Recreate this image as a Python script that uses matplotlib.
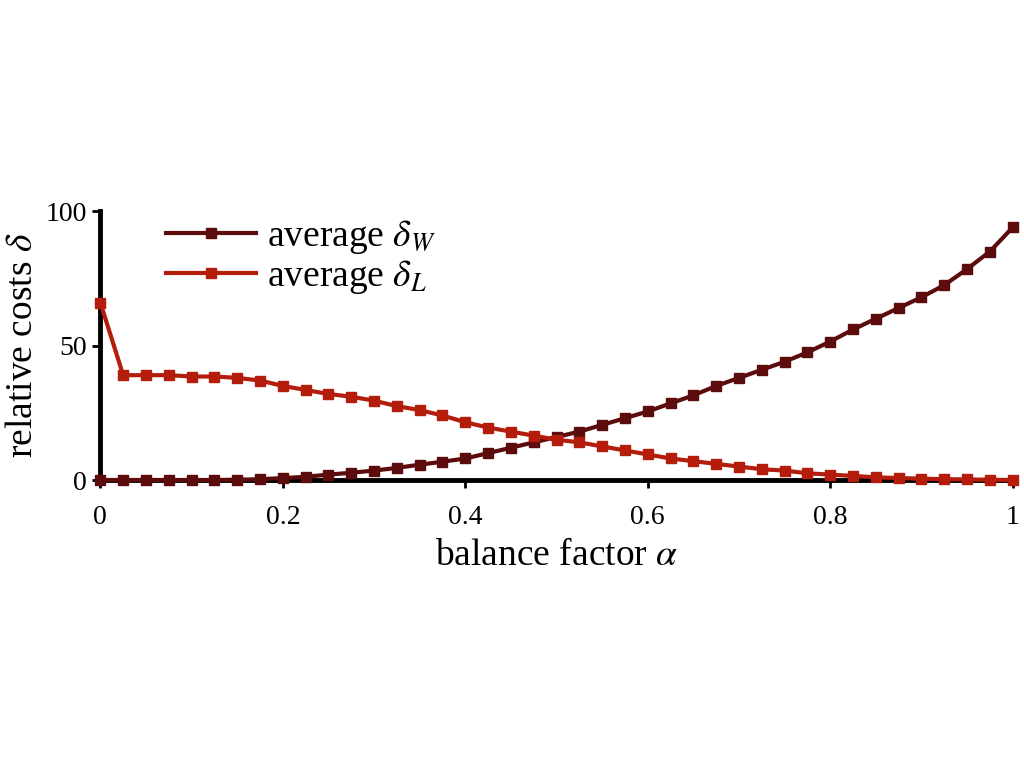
import numpy as np
import matplotlib.pyplot as plt

plt.rcParams['font.family'] = ['Liberation Serif', 'DejaVu Serif']
plt.rcParams['mathtext.fontset'] = 'stix'

alpha = np.linspace(0, 1, 41)
delta_w = [0, 0, 0, 0, 0, 0, 0.1, 0.3, 0.7, 1.2, 2, 2.7, 3.5, 4.5, 5.7, 6.8, 8, 10, 12, 14,
           16, 18, 20.5, 23, 25.5, 28.5, 31.5, 35, 38, 41, 44, 47.5, 51.5, 56, 60, 64, 68,
           72.5, 78.5, 85, 94]
delta_l = [66, 39, 39, 39, 38.5, 38.5, 38, 37, 35, 33.5, 32, 31, 29.5, 27.5, 26, 24, 21.5,
           19.5, 18, 16.5, 15, 14, 12.5, 11, 9.5, 8, 7, 6, 5, 4, 3.5, 2.5, 2, 1.5, 1, 0.7,
           0.5, 0.3, 0.2, 0.1, 0]

fig = plt.figure(figsize=(10.24, 7.68), dpi=100)
ax = fig.add_axes([0.098, 0.375, 0.891, 0.35])
ax.plot(alpha, delta_w, '-s', color='#5c0c0c', lw=3, ms=7, clip_on=False, zorder=3,
        label=r'average $\delta_W$')
ax.plot(alpha, delta_l, '-s', color='#b41c0c', lw=3, ms=7, clip_on=False, zorder=3,
        label=r'average $\delta_L$')
ax.set_xlim(0, 1)
ax.set_ylim(0, 100)
ax.set_xticks([0, 0.2, 0.4, 0.6, 0.8, 1])
ax.set_xticklabels(['0', '0.2', '0.4', '0.6', '0.8', '1'])
ax.set_yticks([0, 50, 100])
for s in ['top', 'right']:
    ax.spines[s].set_visible(False)
for s in ['left', 'bottom']:
    ax.spines[s].set_linewidth(3.5)
ax.tick_params(labelsize=20, width=2, length=6)
ax.tick_params(axis='x', pad=12)
ax.set_xlabel(r'balance factor $\alpha$', fontsize=27, labelpad=6)
ax.set_ylabel(r'relative costs $\delta$', fontsize=27, labelpad=4)
ax.legend(loc='upper left', bbox_to_anchor=(0.035, 1.1), frameon=False, fontsize=27,
          handlelength=2.4, handletextpad=0.3, labelspacing=0.05)
fig.savefig('out.png')
